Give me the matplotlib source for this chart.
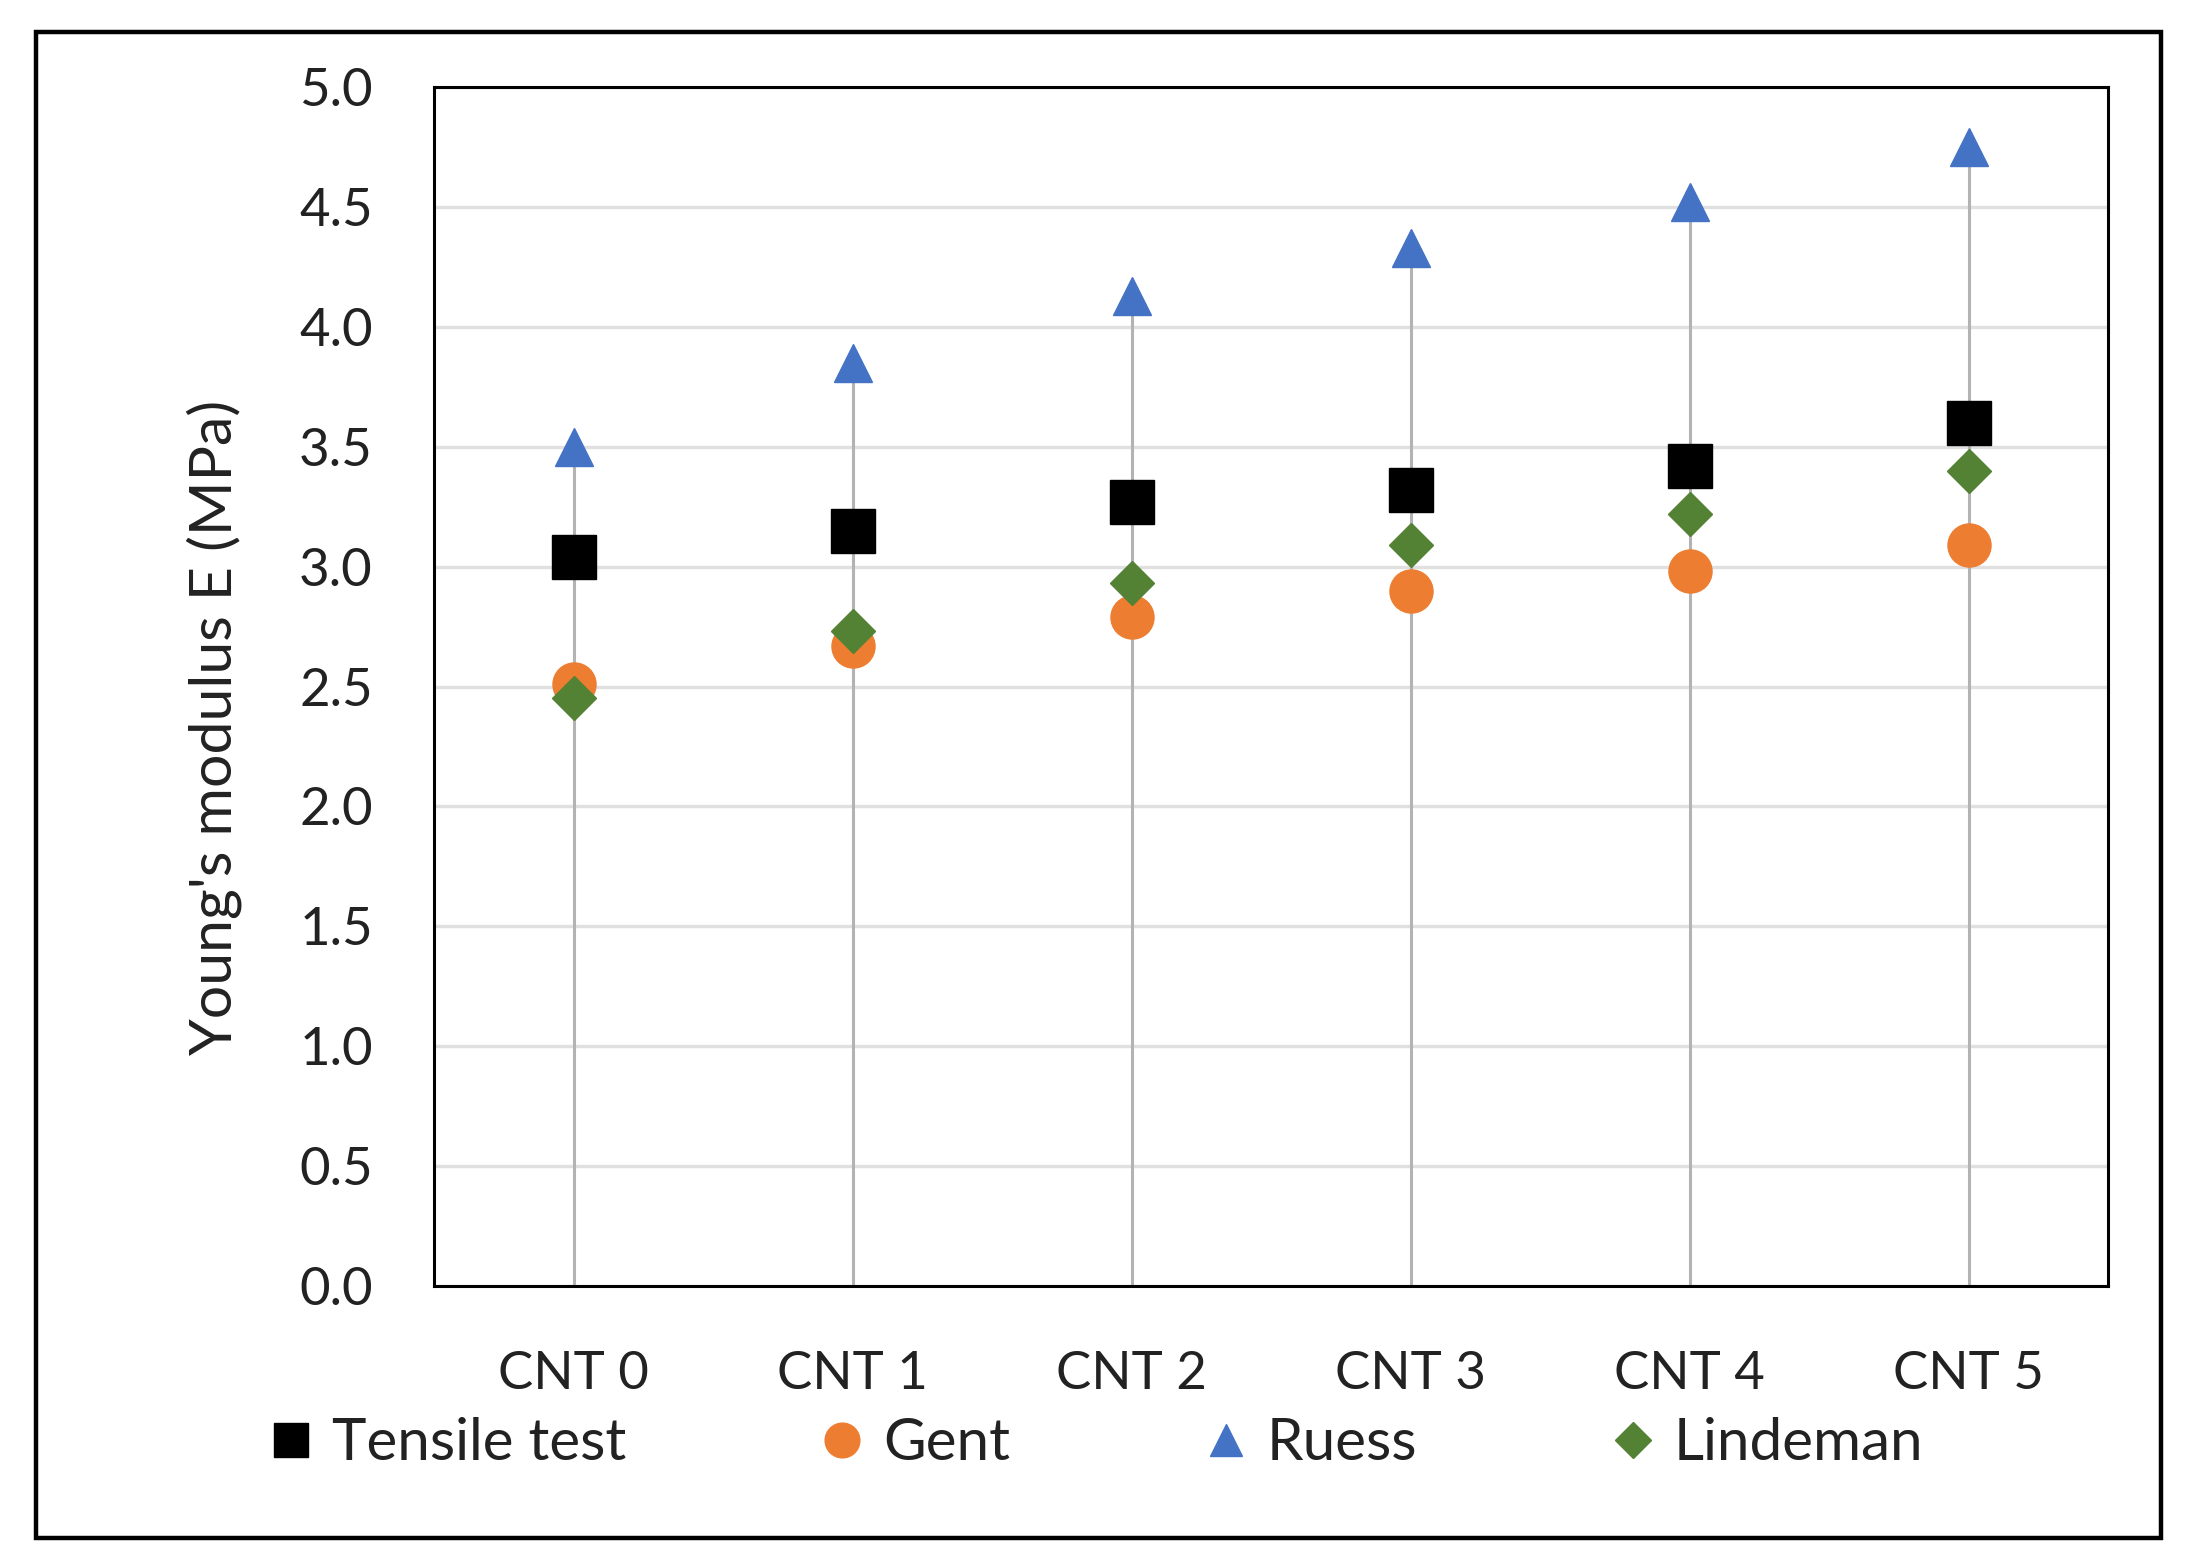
import matplotlib
matplotlib.use("Agg")
import matplotlib.pyplot as plt
from matplotlib.patches import Rectangle
from matplotlib.lines import Line2D
import numpy as np

categories = ["CNT 0", "CNT 1", "CNT 2", "CNT 3", "CNT 4", "CNT 5"]
tensile = [3.04, 3.15, 3.27, 3.32, 3.42, 3.60]
gent = [2.51, 2.67, 2.79, 2.90, 2.98, 3.09]
ruess = [3.50, 3.85, 4.13, 4.33, 4.52, 4.75]
lindeman = [2.45, 2.73, 2.93, 3.09, 3.22, 3.40]
yticks = [0.0, 0.5, 1.0, 1.5, 2.0, 2.5, 3.0, 3.5, 4.0, 4.5, 5.0]

plt.rcParams['font.family'] = ['Lato', 'DejaVu Sans']
FS = 38
TXT = '#222222'

W, H = 2194, 1554
fig = plt.figure(figsize=(W / 100, H / 100), dpi=100)
ax = fig.add_axes([434 / W, 1 - 1286 / H, (2108 - 434) / W, (1286 - 87) / H])

x = np.arange(len(categories))

# drop lines from axis to highest value
tops = np.maximum.reduce([np.array(tensile), np.array(gent), np.array(ruess), np.array(lindeman)])
ax.vlines(x, 0, tops, color='#b3b3b3', lw=2.2, zorder=2)

ax.plot(x, tensile, ls='none', marker='s', ms=31, color='black', zorder=3, label='Tensile test')
ax.plot(x, gent, ls='none', marker='o', ms=31, color='#ED7D31', zorder=3, label='Gent')
ax.plot(x, ruess, ls='none', marker='^', ms=28, color='#4472C4', zorder=3, label='Ruess')
ax.plot(x, lindeman, ls='none', marker='D', ms=22.5, color='#548235', zorder=3, label='Lindeman')

ax.set_xlim(-0.5, len(categories) - 0.5)
ax.set_ylim(0, 5.0)
ax.set_yticks(yticks)
ax.set_yticklabels([f"{v:.1f}" for v in yticks])
ax.set_xticks(x)
ax.set_xticklabels(categories)
ax.tick_params(axis='both', length=0, labelsize=FS, labelcolor=TXT)
ax.tick_params(axis='y', pad=44)
ax.tick_params(axis='x', pad=47)
ax.yaxis.grid(True, color='#e0e0e0', lw=2.4, zorder=0)
ax.set_axisbelow(True)
for s in ax.spines.values():
    s.set_color('black')
    s.set_linewidth(2.2)

ax.set_ylabel("Young's modulus E (MPa)", fontsize=42.5, color=TXT, va='center', ha='center')
ax.yaxis.set_label_coords((214 - 434) / (2108 - 434), (1286 - 727) / (1286 - 87))

handles = [
    Line2D([], [], ls='none', marker='s', ms=25, color='black'),
    Line2D([], [], ls='none', marker='o', ms=25, color='#ED7D31'),
    Line2D([], [], ls='none', marker='^', ms=23, color='#4472C4'),
    Line2D([], [], ls='none', marker='D', ms=18, color='#548235'),
]
labels = ['Tensile test', 'Gent', 'Ruess', 'Lindeman']
fig.legend(handles, labels, loc='center', bbox_to_anchor=(1097 / W, 1 - 1444 / H),
           ncol=4, frameon=False, fontsize=42, handlelength=0.7, handletextpad=0.35,
           columnspacing=3.35, borderaxespad=0, borderpad=0, labelcolor=TXT)

fig.patches.append(Rectangle((36 / W, 1 - 1538 / H), (2161 - 36) / W, (1538 - 32) / H,
                             transform=fig.transFigure, fill=False, ec='black', lw=3.2))

fig.savefig('out.png', dpi=100)
